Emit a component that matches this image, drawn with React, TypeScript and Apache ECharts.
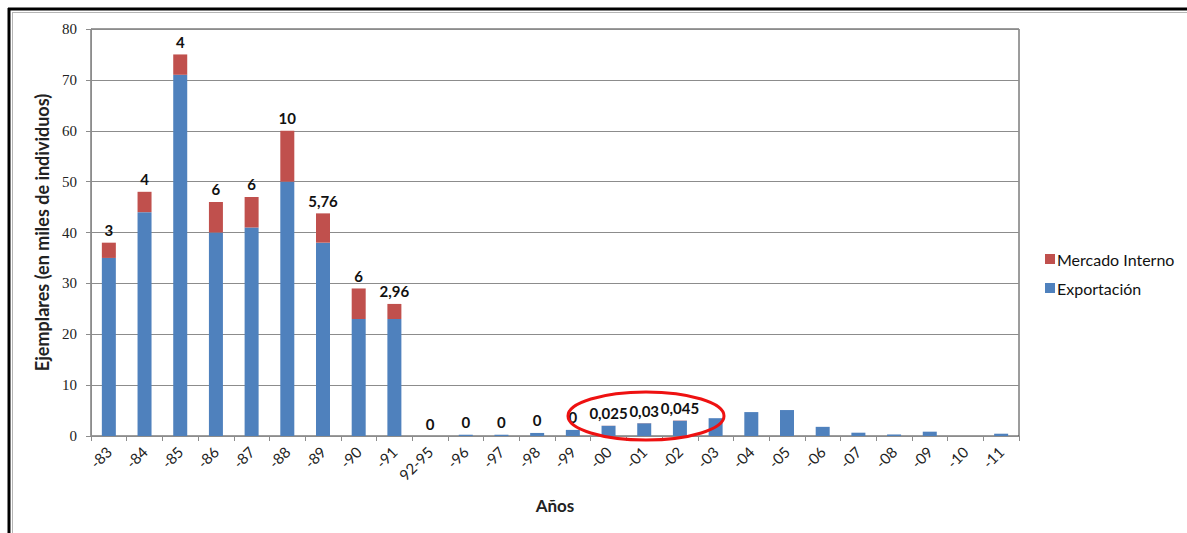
import React, { useEffect, useRef } from "react";
import * as echarts from "echarts";

// Years / periods on the category axis
const categories = [
  "-83", "-84", "-85", "-86", "-87", "-88", "-89", "-90", "-91", "92-95",
  "-96", "-97", "-98", "-99", "-00", "-01", "-02", "-03", "-04", "-05",
  "-06", "-07", "-08", "-09", "-10", "-11",
];

// Thousands of specimens exported
const exportacion = [
  35, 44, 71, 40, 41, 50, 38, 23, 23, 0,
  0.25, 0.25, 0.6, 1.2, 2.0, 2.5, 3.0, 3.5, 4.7, 5.1,
  1.8, 0.65, 0.3, 0.85, 0, 0.45,
];

// Thousands of specimens sold on the domestic market
const mercadoInterno: (number | null)[] = [
  3, 4, 4, 6, 6, 10, 5.76, 6, 2.96, 0,
  0, 0, 0, 0, 0.025, 0.03, 0.045, null, null, null,
  null, null, null, null, null, null,
];

const yTicks = { min: 0, max: 80, interval: 10 };

const BLUE = "#4F81BD";
const RED = "#C0504D";
const SANS = "Lato, 'Open Sans', sans-serif";

export default function App() {
  const ref = useRef<HTMLDivElement>(null);

  useEffect(() => {
    if (!ref.current) return;
    const chart = echarts.init(ref.current, undefined, { renderer: "svg" });

    chart.setOption({
      animation: false,
      backgroundColor: "#ffffff",
      grid: {
        left: 91,
        top: 29,
        right: 168,
        bottom: 97,
        show: true,
        borderColor: "#3a3a3a",
        borderWidth: 1,
        backgroundColor: "transparent",
      },
      legend: {
        orient: "vertical",
        left: 1040,
        top: 246,
        itemWidth: 10,
        itemHeight: 10,
        itemGap: 13,
        icon: "rect",
        data: ["Mercado Interno", "Exportación"],
        textStyle: { fontFamily: SANS, fontSize: 16, color: "#111", padding: [0, 0, 0, -3] },
      },
      xAxis: {
        type: "category",
        data: categories,
        boundaryGap: true,
        name: "Años",
        nameLocation: "middle",
        nameGap: 61,
        nameTextStyle: { fontFamily: SANS, fontSize: 17, fontWeight: "bold", color: "#222" },
        axisLine: { lineStyle: { color: "#8c8c8c", width: 1 } },
        axisTick: { show: true, alignWithLabel: false, length: 5, lineStyle: { color: "#8c8c8c" } },
        axisLabel: {
          rotate: 45,
          margin: 13,
          interval: 0,
          fontFamily: SANS,
          fontSize: 15,
          color: "#222",
        },
      },
      yAxis: {
        type: "value",
        min: yTicks.min,
        max: yTicks.max,
        interval: yTicks.interval,
        name: "Ejemplares (en miles de individuos)",
        nameLocation: "middle",
        nameGap: 37,
        nameTextStyle: { fontFamily: SANS, fontSize: 18, fontWeight: "bold", color: "#222" },
        axisLine: { show: true, lineStyle: { color: "#8c8c8c", width: 1 } },
        axisTick: { show: true, length: 5, lineStyle: { color: "#8c8c8c" } },
        axisLabel: {
          margin: 14,
          fontFamily: "'Liberation Serif', 'DejaVu Serif', serif",
          fontSize: 15,
          color: "#222",
        },
        splitLine: { lineStyle: { color: "#8c8c8c", width: 1 } },
      },
      series: [
        {
          name: "Exportación",
          type: "bar",
          stack: "total",
          barWidth: 14,
          itemStyle: { color: BLUE },
          data: exportacion,
        },
        {
          name: "Mercado Interno",
          type: "bar",
          stack: "total",
          barWidth: 14,
          itemStyle: { color: RED },
          data: mercadoInterno,
          label: {
            show: true,
            position: "top",
            distance: 5,
            fontFamily: SANS,
            fontSize: 15,
            fontWeight: "bold",
            color: "#111",
            formatter: (p: any) =>
              p.value == null ? "" : String(p.value).replace(".", ","),
          },
        },
      ],
      graphic: [
        // page frame
        { type: "line", shape: { x1: 8, y1: 9, x2: 1187, y2: 9 }, style: { stroke: "#000", lineWidth: 3 } },
        { type: "line", shape: { x1: 9, y1: 8, x2: 9, y2: 533 }, style: { stroke: "#000", lineWidth: 3 } },
        { type: "line", shape: { x1: 12, y1: 12.5, x2: 1187, y2: 12.5 }, style: { stroke: "#b5b5b5", lineWidth: 1 } },
        { type: "line", shape: { x1: 12.5, y1: 12, x2: 12.5, y2: 533 }, style: { stroke: "#b5b5b5", lineWidth: 1 } },
        // highlight around 2000–2002
        {
          type: "ellipse",
          z: 100,
          shape: { cx: 646, cy: 416, rx: 78, ry: 24 },
          style: { fill: "none", stroke: "#ee1111", lineWidth: 3 },
        },
      ],
    });

    return () => chart.dispose();
  }, []);

  return (
    <div
      ref={ref}
      style={{ position: "absolute", left: 0, top: 0, width: 1187, height: 533 }}
    />
  );
}
